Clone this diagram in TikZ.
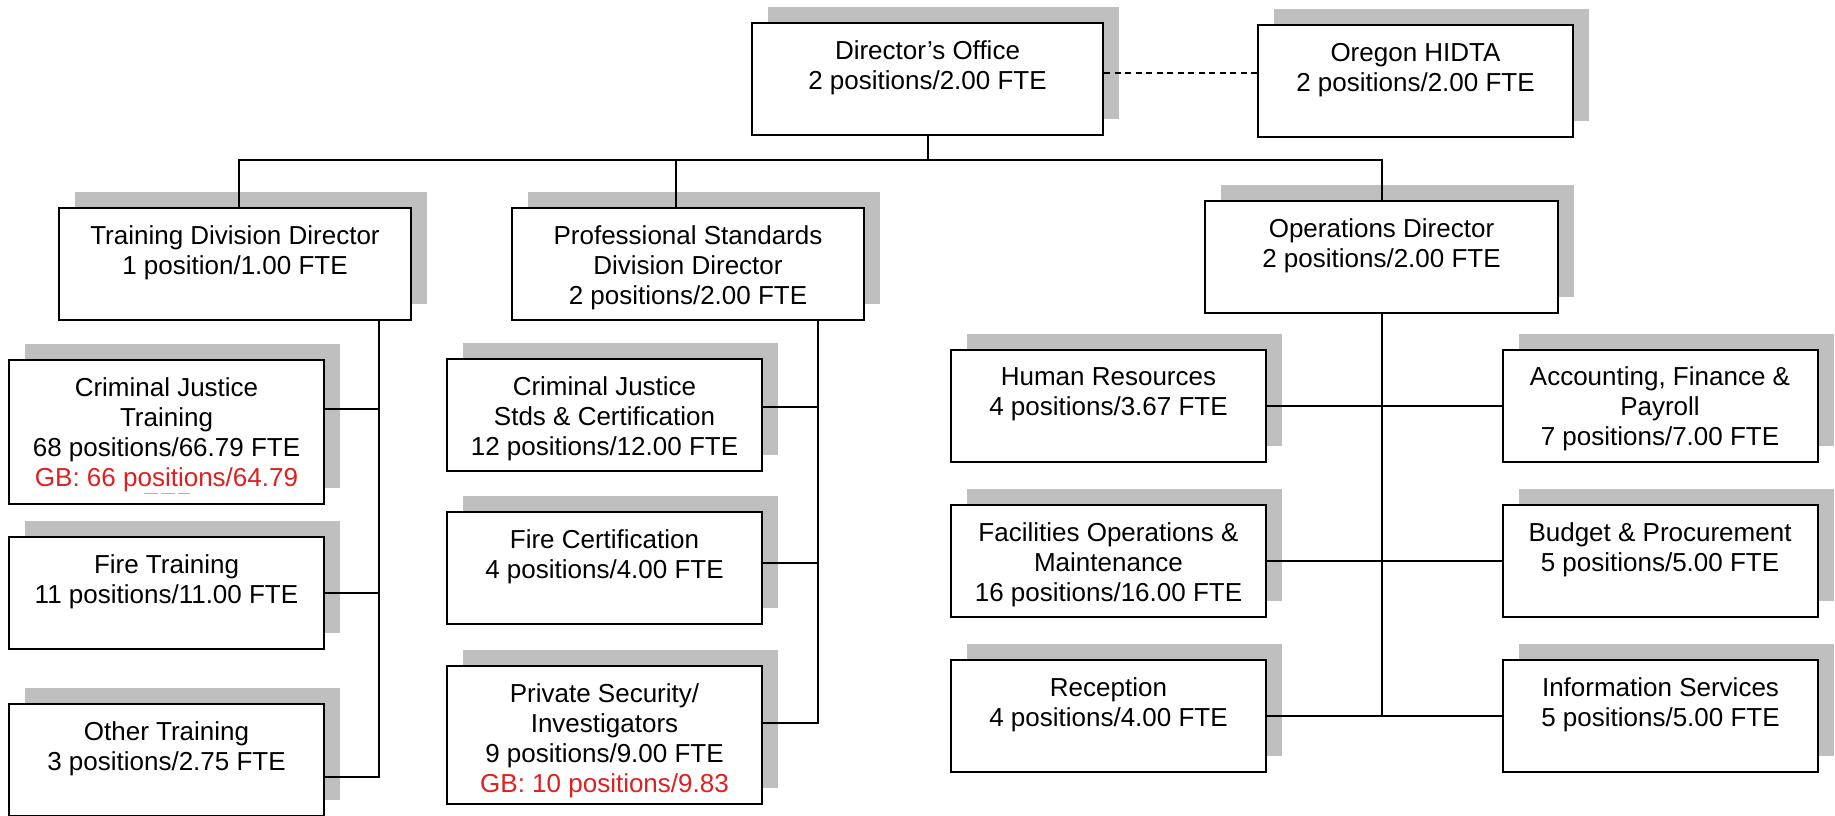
\documentclass[tikz,border=0pt]{standalone}
\usepackage{fontspec}
\setmainfont{Liberation Sans}
\usetikzlibrary{shadows}
\definecolor{gbred}{RGB}{222,32,32}
\tikzset{
	unitbox/.style={draw, line width=1pt, fill=white, align=center, inner sep=2pt,
		font=\fontsize{13}{15}\selectfont, minimum width=157.5pt, minimum height=56pt,
		text height=31pt, text depth=21pt,
		general shadow={shadow xshift=8pt, shadow yshift=8pt, fill=black!25}},
	threeline/.style={text height=46pt, text depth=6pt},
	link/.style={line width=1pt}
}

\begin{document}
\begin{tikzpicture}[x=0.5pt, y=-0.5pt]
		%%%%% START %%%%%
		\clip (0, 0) rectangle (1835, 815);
		
		\node[unitbox, minimum width=175.5pt] (dir) at (927.5, 79) {Director’s Office\\2 positions/2.00 FTE};
		\node[unitbox] (hidta) at (1415.5, 81) {Oregon HIDTA\\2 positions/2.00 FTE};
		
		\node[unitbox, minimum width=176pt] (trdir) at (235, 264) {Training Division Director\\1 position/1.00 FTE};
		\node[unitbox, threeline, minimum width=176pt] (psdir) at (688, 264) {Professional Standards\\Division Director\\2 positions/2.00 FTE};
		\node[unitbox, minimum width=176.5pt] (ops) at (1381.5, 257) {Operations Director\\2 positions/2.00 FTE};
		
		\node[unitbox, minimum height=72pt, text height=61pt, text depth=7pt] (cjt) at (166.5, 432) {Criminal Justice\\Training\\68 positions/66.79 FTE\\\textcolor{gbred}{GB: 66 positions/64.79}};
		\node[unitbox] (fire) at (166.5, 593) {Fire Training\\11 positions/11.00 FTE};
		\node[unitbox] (other) at (166.5, 760) {Other Training\\3 positions/2.75 FTE};
		
		\node[unitbox, threeline] (cjs) at (604.5, 415) {Criminal Justice\\Stds \& Certification\\12 positions/12.00 FTE};
		\node[unitbox] (fcert) at (604.5, 568) {Fire Certification\\4 positions/4.00 FTE};
		\node[unitbox, minimum height=69pt, text height=61pt, text depth=4pt] (psi) at (604.5, 735) {Private Security/\\Investigators\\9 positions/9.00 FTE\\\textcolor{gbred}{GB: 10 positions/9.83}};
		
		\node[unitbox] (hr) at (1108.5, 405.5) {Human Resources\\4 positions/3.67 FTE};
		\node[unitbox, threeline] (acct) at (1660, 405.5) {Accounting, Finance \&\\Payroll\\7 positions/7.00 FTE};
		\node[unitbox, threeline] (fac) at (1108.5, 561) {Facilities Operations \&\\Maintenance\\16 positions/16.00 FTE};
		\node[unitbox] (bud) at (1660, 561) {Budget \& Procurement\\5 positions/5.00 FTE};
		\node[unitbox] (rec) at (1108.5, 716) {Reception\\4 positions/4.00 FTE};
		\node[unitbox] (info) at (1660.5, 716) {Information Services\\5 positions/5.00 FTE};
		
		% faint marks under the GB line
		\draw[black!30, line width=0.5pt, dash pattern=on 7pt off 1.5pt] (144, 493) -- (190, 493);
		
		% top level
		\coordinate (bus) at (0, 160);
		\draw[link, dash pattern=on 3pt off 2.25pt] ([yshift=3pt]dir.east) -- ([yshift=3pt]dir.east -| hidta.west);
		\draw[link] (dir.south) -- (dir.south |- bus);
		\draw[link] ([xshift=2pt]trdir.north) |- (ops.north |- bus) -- (ops.north);
		\draw[link] ([xshift=-6pt]psdir.north) -- ([xshift=-6pt]psdir.north |- bus);
		
		% training division
		\coordinate (trbus) at (379, 0);
		\draw[link] (trdir.south -| trbus) |- ([yshift=-8.5pt]other.east);
		\draw[link] ([yshift=11.5pt]cjt.east) -- ([yshift=11.5pt]cjt.east -| trbus);
		\draw[link] (fire.east) -- (fire.east -| trbus);
		
		% professional standards
		\coordinate (psbus) at (818, 0);
		\draw[link] (psdir.south -| psbus) |- ([yshift=6pt]psi.east);
		\draw[link] ([yshift=4pt]cjs.east) -- ([yshift=4pt]cjs.east -| psbus);
		\draw[link] ([yshift=2.5pt]fcert.east) -- ([yshift=2.5pt]fcert.east -| psbus);
		
		% operations
		\draw[link] (ops.south) -- (ops.south |- rec.east);
		\draw[link] (hr.east) -- (acct.west);
		\draw[link] (fac.east) -- (bud.west);
		\draw[link] (rec.east) -- (info.west);
		
		%%%%% END %%%%%
\end{tikzpicture}
\end{document}
